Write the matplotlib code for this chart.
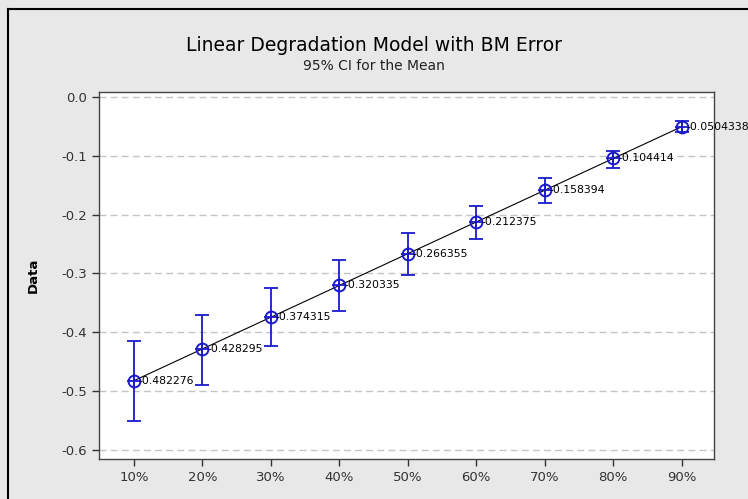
import numpy as np
import matplotlib
matplotlib.use('Agg')
import matplotlib.pyplot as plt
from matplotlib.lines import Line2D

plt.rcParams['font.family'] = ['DejaVu Sans']

# degradation levels and the fitted means with 95% CI bounds
levels = [10, 20, 30, 40, 50, 60, 70, 80, 90]
tick_labels = ['10%', '20%', '30%', '40%', '50%', '60%', '70%', '80%', '90%']
means = [-0.482276, -0.428295, -0.374315, -0.320335, -0.266355,
         -0.212375, -0.158394, -0.104414, -0.0504338]
ci_upper = [-0.415, -0.370, -0.324, -0.277, -0.231, -0.185, -0.137, -0.091, -0.041]
ci_lower = [-0.551, -0.489, -0.423, -0.364, -0.302, -0.242, -0.181, -0.120, -0.059]

x = np.array(levels)
m = np.array(means)
err = np.vstack([m - np.array(ci_lower), np.array(ci_upper) - m])

blue = '#1a1acc'
fig = plt.figure(figsize=(7.48, 4.99), dpi=100, facecolor='#e8e8e8')
ax = fig.add_axes([0.1324, 0.0802, 0.8221, 0.7354])
ax.set_facecolor('white')

ax.plot(x, m, color='black', linewidth=0.8, zorder=2)
ax.errorbar(x, m, yerr=err, fmt='none', ecolor=blue, elinewidth=1.3,
            capsize=5, capthick=1.3, zorder=3)
ax.plot(x, m, linestyle='none', marker='o', markersize=8.5, markerfacecolor='none',
        markeredgecolor=blue, markeredgewidth=1.4, zorder=4)
ax.plot(x, m, linestyle='none', marker='+', markersize=10,
        markeredgecolor=blue, markeredgewidth=1.3, zorder=4)

for xi, yi in zip(x, m):
    ax.annotate('%g' % yi, (xi, yi), xytext=(3.5, 0), textcoords='offset points',
                ha='left', va='center', fontsize=7.8, color='black', zorder=5)

ax.set_xlim(4.92, 94.7)
ax.set_ylim(-0.6153, 0.0085)
ax.set_xticks(levels)
ax.set_xticklabels(tick_labels)
yt = [0.0, -0.1, -0.2, -0.3, -0.4, -0.5, -0.6]
ax.set_yticks(yt)
ax.set_yticklabels(['0.0', '-0.1', '-0.2', '-0.3', '-0.4', '-0.5', '-0.6'])
ax.tick_params(direction='out', length=5, width=1, colors='#333333', labelsize=9.5)
ax.yaxis.grid(True, linestyle=(0, (5, 3)), color='#c4c4c4', linewidth=1)
for s in ax.spines.values():
    s.set_color('#444444')
    s.set_linewidth(1)

ax.set_ylabel('Data', fontsize=9.5, fontweight='bold', labelpad=16)

fig.text(0.5, 0.908, 'Linear Degradation Model with BM Error', ha='center',
         va='center', fontsize=13.5)
fig.text(0.5, 0.868, '95% CI for the Mean', ha='center', va='center',
         fontsize=10, color='#222222')

# outer frame (left and top edges)
fig.add_artist(Line2D([8 / 748, 8 / 748], [0, 1 - 9 / 499], transform=fig.transFigure,
                      color='black', linewidth=1.5))
fig.add_artist(Line2D([8 / 748, 1], [1 - 9 / 499, 1 - 9 / 499], transform=fig.transFigure,
                      color='black', linewidth=1.5))

fig.savefig('out.png', dpi=100, facecolor=fig.get_facecolor())
